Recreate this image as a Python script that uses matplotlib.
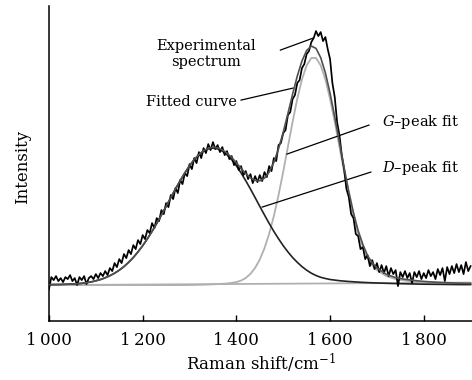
import numpy as np
import matplotlib
matplotlib.use("Agg")
import matplotlib.pyplot as plt

plt.rcParams["font.family"] = ["DejaVu Serif"]
plt.rcParams["mathtext.fontset"] = "dejavuserif"

# experimental spectrum, 1000-1900 cm-1 every 5 cm-1
exp_x = np.arange(1000, 1901, 5)
exp_y = [
    -4, 8, 5, 9, 4, 7, 3, 8, 6, 10, 4, 7, 0, 8, 5, 9, 1, 7, 9, 6,
    11, 7, 12, 9, 14, 10, 17, 14, 22, 18, 26, 22, 31, 27, 35, 31, 40, 36, 45, 41,
    50, 46, 55, 52, 62, 57, 67, 64, 75, 71, 82, 78, 90, 86, 97, 92, 105, 101, 112, 109,
    121, 116, 127, 122, 133, 127, 137, 132, 141, 135, 143, 136, 140, 133, 138, 130, 134, 126, 129, 120,
    124, 115, 119, 110, 114, 106, 111, 102, 109, 103, 110, 104, 113, 108, 119, 114, 127, 124, 140, 142,
    152, 155, 170, 173, 186, 190, 202, 205, 217, 221, 231, 234, 243, 247, 254, 249, 253, 244, 248, 236,
    226, 202, 188, 163, 150, 130, 116, 96, 88, 71, 67, 51, 49, 36, 38, 26, 30, 19, 25, 16,
    22, 13, 20, 12, 19, 9, 17, 11, 15, -1, 13, 8, 14, 7, 12, 2, 13, 8, 14, 6,
    12, 7, 15, 9, 13, 6, 16, 10, 17, 4, 18, 11, 19, 12, 21, 13, 20, 11, 23, 14, 19,
]

# fitted peak components every 10 cm-1
fit_x = np.arange(1000, 1901, 10)
d_peak = [
    0.5, 0.55, 0.6, 0.75, 0.9, 1.1, 1.3, 1.8, 2.4, 3.2,
    4.3, 5.6, 7.3, 9.4, 11.9, 14.9, 18.5, 22.8, 27.6, 33.2,
    39.4, 46.3, 53.7, 61.7, 70.1, 78.7, 87.5, 96.1, 104.4, 112.2,
    119.3, 125.4, 130.3, 134.0, 136.2, 137.0, 136.2, 134.0, 130.3, 125.4,
    119.3, 112.2, 104.4, 96.1, 87.5, 78.7, 70.1, 61.7, 53.7, 46.3,
    39.4, 33.2, 27.6, 22.8, 18.5, 14.9, 11.9, 9.6, 7.8, 6.6,
    5.6, 5.0, 4.4, 4.0, 3.6, 3.3, 3.0, 2.7, 2.5, 2.3,
    2.1, 1.95, 1.8, 1.65, 1.5, 1.4, 1.3, 1.2, 1.1, 1.0,
    0.9, 0.85, 0.8, 0.75, 0.7, 0.65, 0.6, 0.55, 0.5, 0.5, 0.5,
]
g_peak = [
    0, 0, 0, 0, 0, 0, 0, 0, 0, 0,
    0, 0, 0, 0, 0, 0, 0, 0, 0, 0,
    0, 0, 0, 0, 0, 0, 0, 0, 0, 0,
    0.1, 0.2, 0.3, 0.45, 0.6, 0.8, 1.0, 1.3, 1.6, 2.2,
    3.0, 4.5, 7.1, 11.2, 17.2, 25.6, 36.9, 51.3, 69.1, 90.0,
    113.4, 138.3, 163.2, 186.2, 205.6, 219.7, 227.1, 227.1, 219.7, 205.6,
    186.2, 163.2, 138.3, 113.4, 90.0, 69.1, 51.3, 38, 27, 20,
    15, 12, 9, 7.5, 6, 5.2, 4.5, 4, 3.5, 3.1,
    2.8, 2.5, 2.3, 2.1, 1.9, 1.75, 1.6, 1.5, 1.4, 1.3, 1.2,
]
base_x = [1000, 1900]
base_y = [0, 2.5]

fitted = np.array(d_peak) + np.array(g_peak)

fig = plt.figure(figsize=(4.72, 3.8), dpi=100)
ax = fig.add_axes([0.1038, 0.155, 0.8962, 0.829])

ax.plot(base_x, base_y, color="#b0b0b0", lw=1.3, zorder=1)
ax.plot(fit_x, g_peak, color="#b0b0b0", lw=1.3, zorder=2)
ax.plot(fit_x, d_peak, color="#222222", lw=1.2, zorder=2)
ax.plot(exp_x, exp_y, color="black", lw=1.25, zorder=3)
ax.plot(fit_x, fitted, color="#505050", lw=1.2, zorder=4)

ax.set_xlim(1000, 1903)
ax.set_ylim(-36, 279)
ax.set_xticks([1000, 1200, 1400, 1600, 1800])
ax.set_xticklabels(["1\u2009000", "1\u2009200", "1\u2009400", "1\u2009600", "1\u2009800"])
ax.set_yticks([])
ax.tick_params(axis="x", direction="in", length=4, width=1, labelsize=12, pad=8)
for s in ["top", "right"]:
    ax.spines[s].set_visible(False)
ax.spines["left"].set_linewidth(1.1)
ax.spines["bottom"].set_linewidth(1.1)

ax.set_xlabel("Raman shift/cm$^{-1}$", fontsize=12, labelpad=2)
ax.set_ylabel("Intensity", fontsize=12)
ax.yaxis.set_label_coords(-0.042, 0.49)

# annotations
fs = 10.5
ax.text(1335, 231, "Experimental\nspectrum", fontsize=fs, ha="center", va="center", linespacing=1.2)
ax.plot([1494, 1564], [235, 247], color="black", lw=0.9)
ax.text(1304, 183, "Fitted curve", fontsize=fs, ha="center", va="center")
ax.plot([1410, 1521], [185, 197], color="black", lw=0.9)
ax.text(1711, 163, "$G$\u2013peak fit", fontsize=fs, ha="left", va="center")
ax.plot([1683, 1508], [160, 131], color="black", lw=0.9)
ax.text(1711, 117, "$D$\u2013peak fit", fontsize=fs, ha="left", va="center")
ax.plot([1687, 1455], [113, 78], color="black", lw=0.9)

fig.savefig("out.png", dpi=100)
